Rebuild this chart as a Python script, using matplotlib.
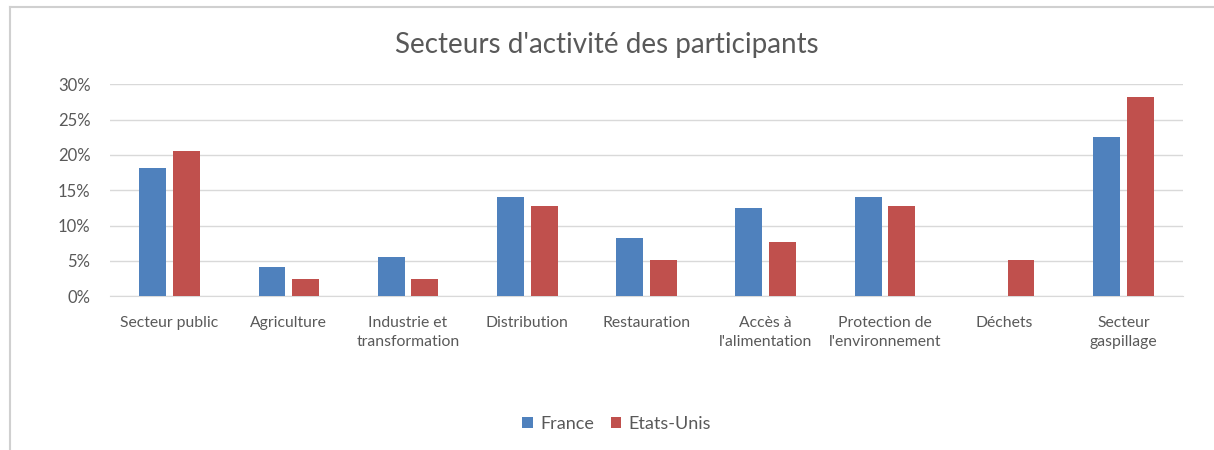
import numpy as np
import matplotlib.pyplot as plt
from matplotlib.lines import Line2D
from matplotlib.ticker import FuncFormatter

# Données
categories = ["Secteur public", "Agriculture", "Industrie et\ntransformation",
              "Distribution", "Restauration", "Accès à\nl'alimentation",
              "Protection de\nl'environnement", "Déchets", "Secteur\ngaspillage"]
france = [18.2, 4.1, 5.6, 14.0, 8.3, 12.5, 14.0, 0.0, 22.5]
etats_unis = [20.5, 2.5, 2.5, 12.8, 5.1, 7.7, 12.8, 5.1, 28.2]

plt.rcParams['font.family'] = ['Lato', 'DejaVu Sans']
grey = "#595959"

fig = plt.figure(figsize=(12.14, 4.5), dpi=100)
ax = fig.add_axes([0.0906, 0.3416, 0.8839, 0.4711])

x = np.arange(len(categories))
w = 0.226
ax.bar(x - 0.141, france, w, color="#4F81BD", label="France", zorder=3)
ax.bar(x + 0.141, etats_unis, w, color="#C0504D", label="Etats-Unis", zorder=3)

ax.set_xlim(-0.5, len(categories) - 0.5)
ax.set_ylim(0, 30)
ax.set_yticks(np.arange(0, 31, 5))
ax.yaxis.set_major_formatter(FuncFormatter(lambda v, p: f"{v:.0f}%"))
ax.set_xticks(x)
ax.set_xticklabels(categories, fontsize=11.3, color=grey, linespacing=1.45)
ax.tick_params(axis='y', length=0, pad=14, labelsize=12, labelcolor=grey)
ax.tick_params(axis='x', length=0, pad=14)
ax.grid(axis='y', color="#D9D9D9", linewidth=1, zorder=0)
for s in ["top", "right", "left"]:
    ax.spines[s].set_visible(False)
ax.spines["bottom"].set_color("#D9D9D9")

fig.text(0.5, 0.90, "Secteurs d'activité des participants", ha="center", va="center",
         fontsize=20, color=grey)

fig.legend(loc="center", bbox_to_anchor=(0.508, 0.058), ncol=2, frameon=False,
           fontsize=13, labelcolor=grey, handlelength=0.6, handleheight=0.6,
           handletextpad=0.4, columnspacing=0.9)

# cadre du graphique
fig.add_artist(Line2D([0.008, 1.0], [0.985, 0.985], color="#D0D0D0", lw=1.5))
fig.add_artist(Line2D([0.008, 0.008], [0.0, 0.985], color="#D0D0D0", lw=1.5))

fig.savefig("out.png", dpi=100, facecolor="white")
